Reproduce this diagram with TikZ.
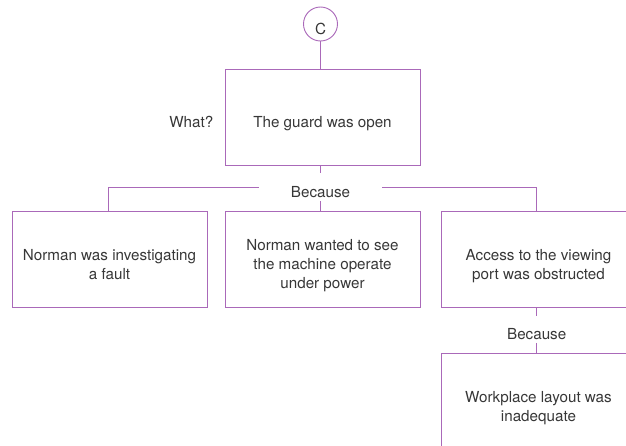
\documentclass[tikz,border=0pt]{standalone}
\usepackage{fontspec}
\setmainfont{TeX Gyre Heros}
\definecolor{lin}{RGB}{170,105,185}
\definecolor{txt}{RGB}{55,55,55}
\newcommand\topstrutx{\rule{0pt}{17.5pt}}
\newcommand\botstrutx{\rule[-2.5pt]{0pt}{2.5pt}}
\begin{document}
\begin{tikzpicture}[x=0.75pt,y=-0.75pt,
  every node/.style={font=\fontsize{11.4pt}{14.25pt}\selectfont, text=txt},
  box/.style={draw=lin, line width=0.7pt, minimum width=146.25pt, minimum height=71.6pt, inner sep=0pt, align=center},
  conn/.style={draw=lin, line width=0.7pt},
  because/.style={inner sep=0pt, text height=18pt, text depth=3pt},
  circ/.style={draw=lin, line width=0.7pt, circle, minimum size=25.5pt, inner sep=0pt}
]
\useasboundingbox (0,0) rectangle (626,446);
\clip (0,0) rectangle (626,446);

\node[circ] (c) at (320.5,24) {\topstrutx C\botstrutx};
\node[box, minimum height=72pt] (top) at (322.5,117) {\topstrutx The guard was open\botstrutx};
\node[anchor=base east, inner sep=0pt] (what) at (213.5,127) {What?};
\node[because, minimum width=92.25pt] (b1) at (320.5,187) {Because};

\node[box] (left) at (109.5,259.5) {\topstrutx Norman was investigating\\a fault\botstrutx};
\node[box] (mid) at (322.5,259.5) {\topstrutx Norman wanted to see\\the machine operate\\under power\botstrutx};
\node[box] (right) at (538.5,259.5) {\topstrutx Access to the viewing\\port was obstructed\botstrutx};

\node[because, text height=17.25pt, text depth=2.25pt] (b2) at (536.7,329.7) {Because};
\node[box] (bottom) at (538.5,401.5) {\topstrutx Workplace layout was\\inadequate\botstrutx};

\draw[conn] (c.south) -- (c.south |- top.north);
\draw[conn] (b1.north |- top.south) -- (b1.north);
\draw[conn] (b1.south) -- (b1.south |- mid.north);
\draw[conn] (b1.west) -| ([xshift=-0.9pt]left.north);
\draw[conn] (b1.east) -| (b2.north |- right.north);
\draw[conn] (b2.north |- right.south) -- (b2.north);
\draw[conn] (b2.south) -- (b2.south |- bottom.north);
\end{tikzpicture}
\end{document}
